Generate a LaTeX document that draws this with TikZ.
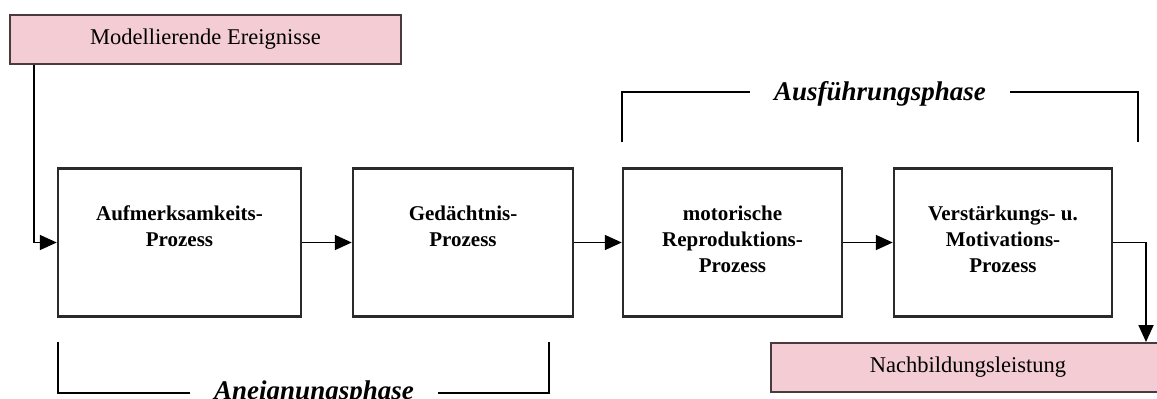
\documentclass[tikz,border=0pt]{standalone}
\usepackage{fontspec}
\setmainfont{Liberation Serif}
\usetikzlibrary{arrows.meta,calc}
\definecolor{pinkfill}{HTML}{F3CDD3}
\definecolor{pinkdraw}{HTML}{4A3A3E}
\definecolor{boxdraw}{HTML}{2A2A2A}
\begin{document}
\begin{tikzpicture}[x=1pt,y=-1pt,
  procbox/.style={draw=boxdraw,line width=2.5pt,fill=white,minimum height=148pt,inner sep=0pt},
  proctext/.style={font=\bfseries\fontsize{21}{26}\selectfont,align=center,anchor=north,inner sep=0pt},
  pinkbox/.style={draw=pinkdraw,line width=2pt,fill=pinkfill,minimum height=49pt,inner sep=0pt,font=\fontsize{22.5}{26}\selectfont},
  arr/.style={draw=black,line width=1.8pt,-{Triangle[length=17pt,width=15pt]}},
  bracket/.style={draw=black,line width=2.7pt},
  phase/.style={font=\bfseries\itshape\fontsize{27}{32}\selectfont,anchor=base,inner xsep=24pt,inner ysep=0pt}]
\useasboundingbox (0,0) rectangle (1157,399);
\fill[white] (0,0) rectangle (1157,399);

\node[pinkbox,minimum width=391pt] (mod) at (205.5,39) {Modellierende Ereignisse};
\node[pinkbox,minimum width=394pt] (nb) at (968,367.5) {Nachbildungsleistung};

\node[procbox,minimum width=243pt] (b1) at (179.5,242.5) {};
\node[procbox,minimum width=220pt] (b2) at (463,242.5) {};
\node[procbox,minimum width=219pt] (b3) at (732.5,242.5) {};
\node[procbox,minimum width=218pt] (b4) at (1003,242.5) {};

\node[proctext] (t1) at ($(b1.north)+(0,38)$) {Aufmerksamkeits-\\Prozess};
\node[proctext] (t2) at ($(b2.north)+(0,38)$) {Gedächtnis-\\Prozess};
\node[proctext] (t3) at ($(b3.north)+(0,38)$) {motorische\\Reproduktions-\\Prozess};
\node[proctext] (t4) at ($(b4.north)+(0,38)$) {Verstärkungs- u.\\Motivations-\\Prozess};

\draw[arr] ($(mod.south west)+(25,0)$) |- (b1.west);
\draw[arr] (b1.east) -- (b2.west);
\draw[arr] (b2.east) -- (b3.west);
\draw[arr] (b3.east) -- (b4.west);
\draw[arr] (b4.east) -| ($(nb.north east)+(-20,0)$);

\node[phase] (ausf) at (880,100) {Ausführungsphase};
\coordinate (aul) at (622,142);
\coordinate (aut) at (622,92);
\coordinate (aur) at (1138,142);
\draw[bracket] (aul) -- (aut) -- (ausf.west |- aut);
\draw[bracket] (ausf.east |- aut) -| (aur);

\node[phase] (aneig) at (314,399) {Aneignungsphase};
\coordinate (anl) at (58,342);
\coordinate (anb) at (58,393);
\coordinate (anr) at (549,342);
\draw[bracket] (anl) -- (anb) -- (aneig.west |- anb);
\draw[bracket] (aneig.east |- anb) -| (anr);
\end{tikzpicture}
\end{document}
